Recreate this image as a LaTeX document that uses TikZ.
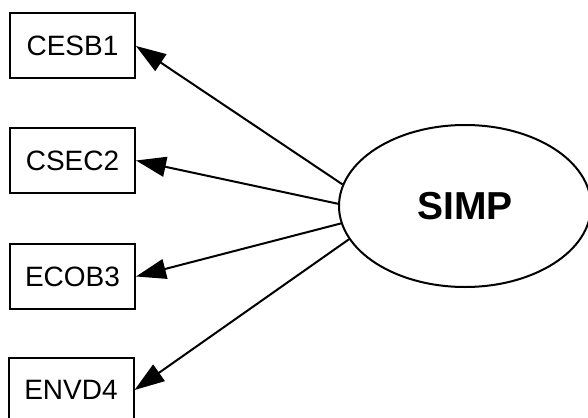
\documentclass[tikz,border=0pt]{standalone}
\usepackage{fontspec}
\setmainfont{Liberation Sans}
\usetikzlibrary{shapes.geometric,arrows.meta}
\tikzset{
  obsbox/.style={draw, line width=2pt, minimum width=125pt, minimum height=65pt, inner sep=0pt,
    font=\fontsize{28}{32}\selectfont},
  latent/.style={draw, ellipse, line width=2pt, minimum width=252pt, minimum height=162pt, inner sep=0pt,
    font=\fontsize{39}{44}\selectfont\bfseries},
  load/.style={line width=2pt, -{Triangle[length=30pt,width=20pt]}}
}
\begin{document}
\begin{tikzpicture}[x=1pt,y=-1pt]
\useasboundingbox (0,0) rectangle (588,417);
\node[obsbox] (cesb) at (72.5,46) {CESB1};
\node[obsbox] (csec) at (72.5,160.5) {CSEC2};
\node[obsbox] (ecob) at (72.5,276.5) {ECOB3};
\node[obsbox] (envd) at (71,390) {ENVD4};
\node[latent] (simp) at (465,206) {SIMP};
\draw[load] (simp.170) -- (cesb.east);
\draw[load] (simp.179) -- (csec.east);
\draw[load] (simp.188) -- (ecob.east);
\draw[load] (simp.196) -- (envd.east);
\end{tikzpicture}
\end{document}
